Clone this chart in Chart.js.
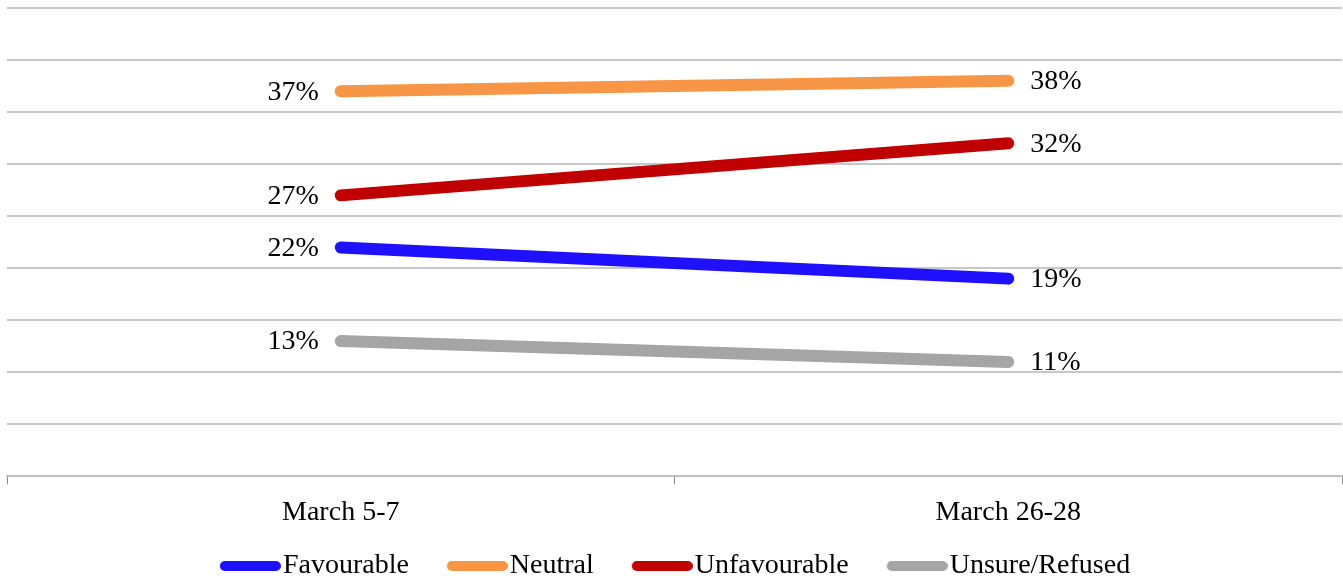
<!DOCTYPE html>
<html>
<head>
<meta charset="utf-8">
<script src="https://cdn.jsdelivr.net/npm/chart.js@4.4.1/dist/chart.umd.min.js"></script>
<style>
  html, body { margin: 0; padding: 0; background: #fff; overflow: hidden; }
</style>
</head>
<body>
<div class="graph_holder">
  <canvas id="myChart" width="1343" height="581"></canvas>
</div>
<script>
// data
const categories = ["March 5-7", "March 26-28"];
const seriesNames = ["Favourable", "Neutral", "Unfavourable", "Unsure/Refused"];
const favourable = [22, 19];
const neutral = [37, 38];
const unfavourable = [27, 32];
const unsure = [13, 11];
const yMax = 45;
const yStep = 5;

const colors = ["#1f10ff", "#f79646", "#c00000", "#a5a5a5"];
const serif = "'Liberation Serif', 'DejaVu Serif', serif";

// legend swatch: thick rounded line, drawn on the right side of a small canvas
function swatch(color) {
  const c = document.createElement("canvas");
  c.width = 108;
  c.height = 14;
  const g = c.getContext("2d");
  g.strokeStyle = color;
  g.lineWidth = 10;
  g.lineCap = "round";
  g.beginPath();
  g.moveTo(52, 7);
  g.lineTo(103, 7);
  g.stroke();
  return c;
}
const swatches = colors.map(swatch);

// value labels next to each point
const pointLabels = {
  id: "pointLabels",
  afterDatasetsDraw(chart) {
    const ctx = chart.ctx;
    ctx.save();
    ctx.font = "28px " + serif;
    ctx.fillStyle = "#000";
    ctx.textBaseline = "middle";
    chart.data.datasets.forEach((ds, i) => {
      chart.getDatasetMeta(i).data.forEach((pt, j) => {
        const first = j === 0;
        ctx.textAlign = first ? "right" : "left";
        ctx.fillText(ds.data[j] + "%", pt.x + (first ? -22 : 22), pt.y + 1);
      });
    });
    ctx.restore();
  }
};

// move the legend a little, built-in box leaves too much room below
const legendShift = {
  id: "legendShift",
  afterLayout(chart) {
    const lg = chart.legend;
    lg.top += 9;
    lg.bottom += 9;
    lg.left -= 17;
    lg.right -= 17;
  }
};

const seriesData = [favourable, neutral, unfavourable, unsure];

new Chart(document.getElementById("myChart").getContext("2d"), {
  type: "line",
  data: {
    labels: categories,
    datasets: seriesNames.map((name, i) => ({
      label: name,
      data: seriesData[i],
      borderColor: colors[i],
      backgroundColor: colors[i],
      borderWidth: 12,
      borderCapStyle: "round",
      pointRadius: 0,
      pointHoverRadius: 0,
      fill: false,
      tension: 0
    }))
  },
  options: {
    responsive: false,
    animation: false,
    devicePixelRatio: 1,
    layout: { padding: { top: 8, left: 7, right: 1, bottom: 0 } },
    scales: {
      x: {
        offset: true,
        grid: { offset: true, drawOnChartArea: false, tickLength: 8, color: "#8c8c8c", lineWidth: 1 },
        border: { color: "#bfbfbf", width: 2 },
        ticks: { color: "#000", font: { family: serif, size: 28 }, padding: 11 }
      },
      y: {
        min: 0,
        max: yMax,
        ticks: { stepSize: yStep, display: false },
        grid: { color: "#c8c8c8", lineWidth: 2, drawTicks: false },
        border: { display: false }
      }
    },
    plugins: {
      tooltip: { enabled: false },
      legend: {
        position: "bottom",
        labels: {
          usePointStyle: true,
          pointStyleWidth: 84,
          padding: 3,
          color: "#000",
          font: { family: serif, size: 28 },
          generateLabels(chart) {
            const items = Chart.defaults.plugins.legend.labels.generateLabels(chart);
            items.forEach(it => { it.pointStyle = swatches[it.datasetIndex]; });
            return items;
          }
        }
      }
    }
  },
  plugins: [pointLabels, legendShift]
});
</script>
</body>
</html>
